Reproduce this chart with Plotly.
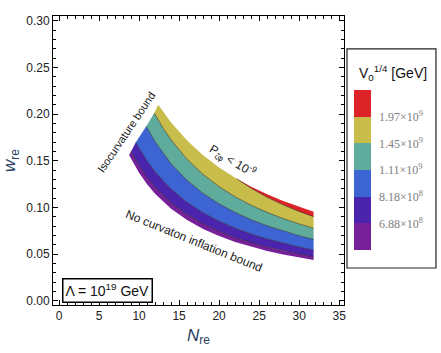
import plotly.graph_objects as go

# ---------------------------------------------------------------------------
# Data: band boundary curves (N_re, w_re)
# ---------------------------------------------------------------------------

# lower edge - "No curvaton inflation bound"
n_bottom = [8.75, 10, 11, 12, 14, 16, 18, 20, 22, 24, 26, 28, 30, 31.8]
w_bottom = [0.1563, 0.1373, 0.1251, 0.1149, 0.0987, 0.0866, 0.0771, 0.0695,
            0.0632, 0.0580, 0.0536, 0.0498, 0.0465, 0.0439]

# V0^1/4 = 6.88e8 contour
n_688 = [9.0, 10, 11, 12, 14, 16, 18, 20, 22, 24, 26, 28, 30, 31.8]
w_688 = [0.1600, 0.1449, 0.1324, 0.1219, 0.1052, 0.0925, 0.0826, 0.0746,
         0.0680, 0.0624, 0.0577, 0.0537, 0.0502, 0.0474]

# V0^1/4 = 8.18e8 contour
n_818 = [9.6, 10, 11, 12, 14, 16, 18, 20, 22, 24, 26, 28, 30, 31.8]
w_818 = [0.1700, 0.1638, 0.1500, 0.1384, 0.1198, 0.1057, 0.0945, 0.0854,
         0.0780, 0.0717, 0.0664, 0.0618, 0.0578, 0.0546]

# V0^1/4 = 1.11e9 contour
n_111 = [10.9, 12, 14, 16, 18, 20, 22, 24, 26, 28, 30, 31.8]
w_111 = [0.1870, 0.1706, 0.1470, 0.1292, 0.1152, 0.1040, 0.0948, 0.0870,
         0.0805, 0.0748, 0.0699, 0.0660]

# V0^1/4 = 1.45e9 contour
n_145 = [11.9, 13, 14, 16, 18, 20, 22, 24, 26, 28, 30, 31.8]
w_145 = [0.2013, 0.1851, 0.1725, 0.1518, 0.1355, 0.1224, 0.1116, 0.1025,
         0.0949, 0.0882, 0.0825, 0.0779]

# V0^1/4 = 1.97e9 contour (only right part inside region)
n_197 = [22.2, 24, 26, 28, 30, 31.8]
w_197 = [0.1309, 0.1207, 0.1111, 0.1029, 0.0959, 0.0903]

# upper edge - P_zeta_phi < 1e-9
n_top = [12.4, 14, 16, 18, 20, 22, 22.2, 24, 26, 28, 30, 31.8]
w_top = [0.2100, 0.1911, 0.1718, 0.1561, 0.1430, 0.1319, 0.1309, 0.1224,
         0.1142, 0.1070, 0.1007, 0.0956]

band_colours = ["#76209a", "#4a24ad", "#3d64d3", "#5fab9c", "#c8bd4a", "#dc2328"]
scale_labels = ["6.88×10<sup>8</sup>", "8.18×10<sup>8</sup>", "1.11×10<sup>9</sup>",
                "1.45×10<sup>9</sup>", "1.97×10<sup>9</sup>"]


def band(n_lo, w_lo, n_hi, w_hi):
    """Closed polygon between a lower and an upper curve."""
    return n_lo + n_hi[::-1] + [n_lo[0]], w_lo + w_hi[::-1] + [w_lo[0]]


# top of yellow band: 1.97e9 contour on the right, P bound on the left
i_split = n_top.index(n_197[0])
n_ytop = n_top[:i_split] + n_197
w_ytop = w_top[:i_split] + w_197

polys = [
    band(n_bottom, w_bottom, n_688, w_688),
    band(n_688, w_688, n_818, w_818),
    band(n_818, w_818, n_111, w_111),
    band(n_111, w_111, n_145, w_145),
    band(n_145, w_145, n_ytop, w_ytop),
    band(n_197, w_197, n_top[i_split:], w_top[i_split:]),
]

fig = go.Figure()

for (xs, ys), col in zip(polys, band_colours):
    fig.add_trace(go.Scatter(x=xs, y=ys, mode="lines", fill="toself",
                             fillcolor=col, line=dict(width=0, color=col),
                             hoverinfo="skip", showlegend=False))

# thin dark contour lines between bands
for xs, ys in [(n_688, w_688), (n_818, w_818), (n_111, w_111),
               (n_145, w_145), (n_197, w_197)]:
    fig.add_trace(go.Scatter(x=xs, y=ys, mode="lines",
                             line=dict(width=0.8, color="rgba(30,20,20,0.65)"),
                             hoverinfo="skip", showlegend=False))

# colour scale (legend)
n_band = len(band_colours)
cscale = []
for i, c in enumerate(band_colours):
    cscale += [[i / n_band, c], [(i + 1) / n_band, c]]

fig.add_trace(go.Scatter(
    x=[None], y=[None], mode="markers", showlegend=False,
    marker=dict(color=[0], cmin=0, cmax=n_band, colorscale=cscale, showscale=True,
                colorbar=dict(
                    x=1.034, xanchor="left", y=0.467, yanchor="middle",
                    len=0.554, lenmode="fraction", thickness=17,
                    xpad=0, ypad=0, outlinewidth=0,
                    tickvals=[1, 2, 3, 4, 5], ticktext=scale_labels,
                    ticks="outside", ticklen=6, tickcolor="rgba(0,0,0,0)",
                    tickfont=dict(family="Liberation Serif, serif", size=12, color="#808080"),
                )),
))

axis_common = dict(
    showline=True, linecolor="black", linewidth=1, mirror="allticks",
    ticks="inside", ticklen=5, tickcolor="black", showgrid=False, zeroline=False,
    automargin=False,
    tickfont=dict(family="Liberation Sans, Arial, sans-serif", size=12, color="#222"),
)

fig.update_xaxes(range=[-0.75, 35.6], dtick=5, tick0=0,
                 minor=dict(dtick=1, ticks="inside", ticklen=3, tickcolor="black"),
                 title=dict(text="<i>N</i><sub>re</sub>", standoff=6,
                            font=dict(family="Liberation Sans, Arial", size=17)),
                 **axis_common)
fig.update_yaxes(range=[-0.0043, 0.3051], dtick=0.05, tick0=0, tickformat=".2f",
                 minor=dict(dtick=0.01, ticks="inside", ticklen=3, tickcolor="black"),
                 title=dict(text="<i>w</i><sub>re</sub>", standoff=8,
                            font=dict(family="Liberation Sans, Arial", size=17)),
                 **axis_common)

label_font = dict(family="Liberation Sans, Arial, sans-serif", size=11, color="#222")
fig.add_annotation(x=8.4, y=0.181, text="Isocurvature bound", showarrow=False,
                   textangle=-56, font=label_font)
fig.add_annotation(x=21.7, y=0.150, text="P<sub>ζφ</sub> < 10<sup>-9</sup>",
                   showarrow=False, textangle=31, font=dict(label_font, size=12))
fig.add_annotation(x=16.9, y=0.0643, text="No curvaton inflation bound",
                   showarrow=False, textangle=22, font=dict(label_font, size=12))
fig.add_annotation(x=6.1, y=0.0107, text="Λ = 10<sup>19</sup> GeV", showarrow=False,
                   bordercolor="black", borderwidth=1.5, borderpad=2, bgcolor="white",
                   font=dict(family="Liberation Sans, Arial, sans-serif", size=14, color="#111"))

# legend box and title
fig.add_shape(type="rect", xref="paper", yref="paper",
              x0=1.0103, x1=1.316, y0=0.128, y1=0.886,
              line=dict(color="#222", width=1.2))
fig.add_annotation(xref="paper", yref="paper", x=1.168, y=0.803,
                   xanchor="center", yanchor="middle",
                   text="V<sub>0</sub><sup>1/4</sup> [GeV]", showarrow=False,
                   font=dict(family="Liberation Sans, Arial, sans-serif", size=14, color="#111"))

fig.update_layout(
    width=441, height=353,
    margin=dict(l=53, r=97, t=16, b=48, autoexpand=False),
    plot_bgcolor="white", paper_bgcolor="white",
    showlegend=False,
)

# the page's default body margin would push the figure 8px right and down
fig.write_html("out.html", config={"displayModeBar": False},
               post_script="document.body.style.margin = '0';")
